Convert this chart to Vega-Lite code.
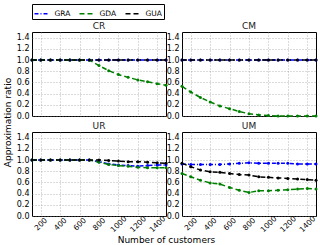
{
 "$schema": "https://vega.github.io/schema/vega-lite/v6.json",
 "padding": {"left": 2, "top": 3, "right": 4, "bottom": 2},
 "config": {
  "font": "DejaVu Sans",
  "view": {"stroke": "black", "strokeWidth": 1},
  "axis": {"labelFontSize": 8, "labelColor": "black", "titleFontSize": 9, "titleFontWeight": "normal", "titleColor": "black", "gridColor": "#888888", "gridDash": [1, 2], "gridWidth": 0.6, "domain": false, "ticks": false, "labelPadding": 3, "labelOverlap": false, "labelFlush": false},
  "title": {"fontSize": 9, "fontWeight": 400, "offset": 1, "color": "#222222"},
  "style": {"group-title": {"fontSize": 9, "fontWeight": 400}}
 },
 "datasets": {
  "d": [
   {"p":"CR","x":110,"GRA":1,"GDA":1,"GUA":1},
   {"p":"CR","x":200,"GRA":1,"GDA":1,"GUA":1},
   {"p":"CR","x":300,"GRA":1,"GDA":1,"GUA":1},
   {"p":"CR","x":400,"GRA":1,"GDA":1,"GUA":1},
   {"p":"CR","x":500,"GRA":1,"GDA":1,"GUA":1},
   {"p":"CR","x":600,"GRA":1,"GDA":1,"GUA":1},
   {"p":"CR","x":700,"GRA":1,"GDA":1,"GUA":1},
   {"p":"CR","x":800,"GRA":1,"GDA":0.9,"GUA":1},
   {"p":"CR","x":900,"GRA":1,"GDA":0.81,"GUA":1},
   {"p":"CR","x":1000,"GRA":1,"GDA":0.74,"GUA":1},
   {"p":"CR","x":1100,"GRA":1,"GDA":0.69,"GUA":1},
   {"p":"CR","x":1200,"GRA":1,"GDA":0.645,"GUA":1},
   {"p":"CR","x":1300,"GRA":1,"GDA":0.61,"GUA":1},
   {"p":"CR","x":1400,"GRA":1,"GDA":0.575,"GUA":1},
   {"p":"CR","x":1490,"GRA":1,"GDA":0.55,"GUA":1},
   {"p":"CM","x":110,"GRA":1,"GDA":0.53,"GUA":1},
   {"p":"CM","x":200,"GRA":1,"GDA":0.43,"GUA":1},
   {"p":"CM","x":300,"GRA":1,"GDA":0.33,"GUA":1},
   {"p":"CM","x":400,"GRA":1,"GDA":0.25,"GUA":1},
   {"p":"CM","x":500,"GRA":1,"GDA":0.18,"GUA":1},
   {"p":"CM","x":600,"GRA":1,"GDA":0.13,"GUA":1},
   {"p":"CM","x":700,"GRA":1,"GDA":0.08,"GUA":1},
   {"p":"CM","x":800,"GRA":1,"GDA":0.04,"GUA":1},
   {"p":"CM","x":900,"GRA":1,"GDA":0.02,"GUA":1},
   {"p":"CM","x":1000,"GRA":1,"GDA":0.01,"GUA":1},
   {"p":"CM","x":1100,"GRA":1,"GDA":0.0,"GUA":1},
   {"p":"CM","x":1200,"GRA":1,"GDA":0.0,"GUA":1},
   {"p":"CM","x":1300,"GRA":1,"GDA":0.0,"GUA":1},
   {"p":"CM","x":1400,"GRA":1,"GDA":0.0,"GUA":1},
   {"p":"CM","x":1490,"GRA":1,"GDA":0.0,"GUA":1},
   {"p":"UR","x":110,"GRA":1,"GDA":1,"GUA":1},
   {"p":"UR","x":200,"GRA":1,"GDA":1,"GUA":1},
   {"p":"UR","x":300,"GRA":1,"GDA":1,"GUA":1},
   {"p":"UR","x":400,"GRA":1,"GDA":1,"GUA":1},
   {"p":"UR","x":500,"GRA":1,"GDA":1,"GUA":1},
   {"p":"UR","x":600,"GRA":1,"GDA":1,"GUA":1},
   {"p":"UR","x":700,"GRA":1,"GDA":1,"GUA":1},
   {"p":"UR","x":800,"GRA":0.97,"GDA":0.96,"GUA":1},
   {"p":"UR","x":900,"GRA":0.93,"GDA":0.92,"GUA":0.99},
   {"p":"UR","x":1000,"GRA":0.91,"GDA":0.9,"GUA":0.98},
   {"p":"UR","x":1100,"GRA":0.9,"GDA":0.89,"GUA":0.97},
   {"p":"UR","x":1200,"GRA":0.89,"GDA":0.87,"GUA":0.97},
   {"p":"UR","x":1300,"GRA":0.9,"GDA":0.86,"GUA":0.96},
   {"p":"UR","x":1400,"GRA":0.91,"GDA":0.86,"GUA":0.95},
   {"p":"UR","x":1490,"GRA":0.91,"GDA":0.86,"GUA":0.94},
   {"p":"UM","x":110,"GRA":0.93,"GDA":0.76,"GUA":0.94},
   {"p":"UM","x":200,"GRA":0.92,"GDA":0.7,"GUA":0.88},
   {"p":"UM","x":300,"GRA":0.92,"GDA":0.64,"GUA":0.82},
   {"p":"UM","x":400,"GRA":0.92,"GDA":0.59,"GUA":0.79},
   {"p":"UM","x":500,"GRA":0.92,"GDA":0.57,"GUA":0.78},
   {"p":"UM","x":600,"GRA":0.93,"GDA":0.51,"GUA":0.76},
   {"p":"UM","x":700,"GRA":0.94,"GDA":0.46,"GUA":0.74},
   {"p":"UM","x":800,"GRA":0.95,"GDA":0.42,"GUA":0.73},
   {"p":"UM","x":900,"GRA":0.94,"GDA":0.45,"GUA":0.7},
   {"p":"UM","x":1000,"GRA":0.94,"GDA":0.45,"GUA":0.69},
   {"p":"UM","x":1100,"GRA":0.94,"GDA":0.46,"GUA":0.68},
   {"p":"UM","x":1200,"GRA":0.94,"GDA":0.47,"GUA":0.67},
   {"p":"UM","x":1300,"GRA":0.93,"GDA":0.48,"GUA":0.66},
   {"p":"UM","x":1400,"GRA":0.93,"GDA":0.49,"GUA":0.65},
   {"p":"UM","x":1490,"GRA":0.93,"GDA":0.48,"GUA":0.64}
  ]
 },
 "columns": 2,
 "bounds": "flush",
 "spacing": {"row": 16, "column": 16},
 "concat": [
  {
   "width": 134, "height": 84, "title": {"text": "CR", "fontWeight": 400},
   "data": {"name": "d"},
   "transform": [{"filter": "datum.p === 'CR'"}, {"fold": ["GRA", "GDA", "GUA"], "as": ["s", "y"]}],
   "encoding": {
    "x": {"field": "x", "type": "quantitative", "scale": {"domain": [110, 1490]}, "axis": {"values": [200,400,600,800,1000,1200,1400], "labels": false, "title": null}},
    "y": {"field": "y", "type": "quantitative", "scale": {"domain": [0, 1.5]}, "axis": {"values": [0,0.2,0.4,0.6,0.8,1,1.2,1.4], "format": ".1f", "title": "Approximation ratio", "titleY": 90}},
    "color": {"field": "s", "type": "nominal", "scale": {"domain": ["GRA","GDA","GUA"], "range": ["#0000ff","#008000","#000000"]},
     "legend": {"title": null, "orient": "none", "legendX": 0, "legendY": -28, "direction": "horizontal", "columns": 3, "symbolType": "stroke", "symbolSize": 196, "symbolStrokeWidth": 1.5, "labelFontSize": 7.5, "labelOffset": 5, "labelColor": "black", "strokeColor": "black", "padding": 1.5, "columnPadding": 6, "rowPadding": 0}}
   },
   "layer": [
    {"mark": {"type": "line", "strokeWidth": 1.5}, "encoding": {"strokeDash": {"field": "s", "type": "nominal", "scale": {"domain": ["GRA","GDA","GUA"], "range": [[4,2,1,2],[5,3],[5,3]]}, "legend": null}}},
    {"mark": {"type": "point", "filled": true, "size": 9, "opacity": 1}}
   ]
  },
  {
   "width": 134, "height": 84, "title": {"text": "CM", "fontWeight": 400},
   "data": {"name": "d"},
   "transform": [{"filter": "datum.p === 'CM'"}, {"fold": ["GRA", "GDA", "GUA"], "as": ["s", "y"]}],
   "encoding": {
    "x": {"field": "x", "type": "quantitative", "scale": {"domain": [110, 1490]}, "axis": {"values": [200,400,600,800,1000,1200,1400], "labels": false, "title": null}},
    "y": {"field": "y", "type": "quantitative", "scale": {"domain": [0, 1.5]}, "axis": {"values": [0,0.2,0.4,0.6,0.8,1,1.2,1.4], "format": ".1f", "title": null}},
    "color": {"field": "s", "type": "nominal", "scale": {"domain": ["GRA","GDA","GUA"], "range": ["#0000ff","#008000","#000000"]}}
   },
   "layer": [
    {"mark": {"type": "line", "strokeWidth": 1.5}, "encoding": {"strokeDash": {"field": "s", "type": "nominal", "scale": {"domain": ["GRA","GDA","GUA"], "range": [[4,2,1,2],[5,3],[5,3]]}, "legend": null}}},
    {"mark": {"type": "point", "filled": true, "size": 9, "opacity": 1}}
   ]
  },
  {
   "width": 134, "height": 84, "title": {"text": "UR", "fontWeight": 400},
   "data": {"name": "d"},
   "transform": [{"filter": "datum.p === 'UR'"}, {"fold": ["GRA", "GDA", "GUA"], "as": ["s", "y"]}],
   "encoding": {
    "x": {"field": "x", "type": "quantitative", "scale": {"domain": [110, 1490]}, "axis": {"values": [200,400,600,800,1000,1200,1400], "format": "d", "labelAngle": -45, "labelAlign": "center", "labelBaseline": "middle", "labelPadding": 8, "labelFontSize": 7.5, "title": "Number of customers", "titleX": 134, "titlePadding": 2}},
    "y": {"field": "y", "type": "quantitative", "scale": {"domain": [0, 1.5]}, "axis": {"values": [0,0.2,0.4,0.6,0.8,1,1.2,1.4], "format": ".1f", "title": null}},
    "color": {"field": "s", "type": "nominal", "scale": {"domain": ["GRA","GDA","GUA"], "range": ["#0000ff","#008000","#000000"]}}
   },
   "layer": [
    {"mark": {"type": "line", "strokeWidth": 1.5}, "encoding": {"strokeDash": {"field": "s", "type": "nominal", "scale": {"domain": ["GRA","GDA","GUA"], "range": [[4,2,1,2],[5,3],[5,3]]}, "legend": null}}},
    {"mark": {"type": "point", "filled": true, "size": 9, "opacity": 1}}
   ]
  },
  {
   "width": 134, "height": 84, "title": {"text": "UM", "fontWeight": 400},
   "data": {"name": "d"},
   "transform": [{"filter": "datum.p === 'UM'"}, {"fold": ["GRA", "GDA", "GUA"], "as": ["s", "y"]}],
   "encoding": {
    "x": {"field": "x", "type": "quantitative", "scale": {"domain": [110, 1490]}, "axis": {"values": [200,400,600,800,1000,1200,1400], "format": "d", "labelAngle": -45, "labelAlign": "center", "labelBaseline": "middle", "labelPadding": 8, "labelFontSize": 7.5, "title": null}},
    "y": {"field": "y", "type": "quantitative", "scale": {"domain": [0, 1.5]}, "axis": {"values": [0,0.2,0.4,0.6,0.8,1,1.2,1.4], "format": ".1f", "title": null}},
    "color": {"field": "s", "type": "nominal", "scale": {"domain": ["GRA","GDA","GUA"], "range": ["#0000ff","#008000","#000000"]}}
   },
   "layer": [
    {"mark": {"type": "line", "strokeWidth": 1.5}, "encoding": {"strokeDash": {"field": "s", "type": "nominal", "scale": {"domain": ["GRA","GDA","GUA"], "range": [[4,2,1,2],[5,3],[5,3]]}, "legend": null}}},
    {"mark": {"type": "point", "filled": true, "size": 9, "opacity": 1}}
   ]
  }
 ]
}
